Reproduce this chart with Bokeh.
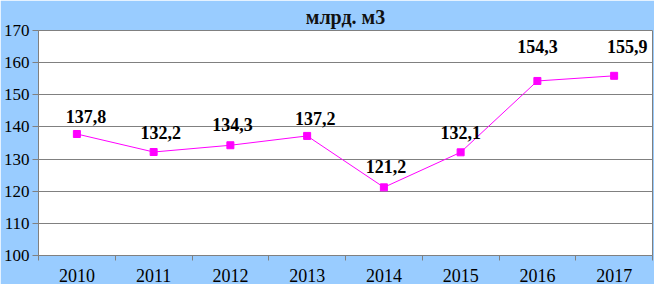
import numpy as np
from bokeh.plotting import figure
from bokeh.models import Range1d, FixedTicker, ColumnDataSource
from bokeh.core.properties import value
from bokeh.embed import file_html
from bokeh.resources import INLINE

years = ["2010", "2011", "2012", "2013", "2014", "2015", "2016", "2017"]
volumes = [137.8, 132.2, 134.3, 137.2, 121.2, 132.1, 154.3, 155.9]
labels = ["137,8", "132,2", "134,3", "137,2", "121,2", "132,1", "154,3", "155,9"]
y_ticks = [100, 110, 120, 130, 140, 150, 160, 170]
# label placement (screen px) relative to each point
label_dx = [9, 7, 2, 8, 2, 0, 0, 13]
label_dy = [-18, -20, -21, -17, -21, -20, -34, -29]

BG = "#99CCFF"
GRID = "#808080"
SERIF = "'Liberation Serif', 'Times New Roman', serif"

xs = np.arange(len(years)) + 0.5

p = figure(width=654, height=284, output_backend="svg", toolbar_location=None,
           x_range=Range1d(0, len(years)), y_range=Range1d(100, 170),
           title="млрд. м3", min_border_left=35, min_border_right=2,
           min_border_top=0, min_border_bottom=0)

p.background_fill_color = "white"
p.border_fill_color = BG
p.outline_line_color = GRID
p.outline_line_width = 1

p.title.align = "center"
p.title.text_font = SERIF
p.title.text_font_size = "20px"
p.title.text_font_style = "bold"
p.title.text_color = "#111111"
p.title.standoff = 6

# x axis: labels at category centres, ticks at boundaries
p.xaxis.ticker = FixedTicker(ticks=list(xs), minor_ticks=list(range(len(years) + 1)))
p.xaxis.major_label_overrides = {float(x): y for x, y in zip(xs, years)}
p.xaxis.major_tick_line_color = None
p.xaxis.minor_tick_line_color = GRID
p.xaxis.minor_tick_out = 5
p.xaxis.minor_tick_in = 0
p.xaxis.axis_line_color = GRID
p.xaxis.major_label_text_font = SERIF
p.xaxis.major_label_text_font_size = "18px"
p.xaxis.major_label_text_color = "black"
p.xaxis.major_label_standoff = 7

p.yaxis.ticker = FixedTicker(ticks=y_ticks, minor_ticks=[])
p.yaxis.axis_line_color = GRID
p.yaxis.major_tick_line_color = GRID
p.yaxis.major_tick_out = 6
p.yaxis.major_tick_in = 0
p.yaxis.major_label_text_font = SERIF
p.yaxis.major_label_text_font_size = "17px"
p.yaxis.major_label_text_color = "black"
p.yaxis.major_label_standoff = 3

p.xgrid.grid_line_color = None
p.ygrid.ticker = FixedTicker(ticks=y_ticks)
p.ygrid.grid_line_color = GRID
p.ygrid.grid_line_width = 1

src = ColumnDataSource(dict(x=xs, y=volumes, lab=labels, dx=label_dx, dy=label_dy))
p.line("x", "y", source=src, line_color="#FF00FF", line_width=1)
p.scatter("x", "y", source=src, marker="square", size=7,
          fill_color="#FF00FF", line_color="#FF00FF")
p.text("x", "y", text="lab", source=src, x_offset="dx", y_offset="dy",
       text_align="center", text_baseline="middle",
       text_font=value(SERIF), text_font_size="18px", text_font_style="bold",
       text_color="black")

open("out.html", "w").write(file_html(p, INLINE))
